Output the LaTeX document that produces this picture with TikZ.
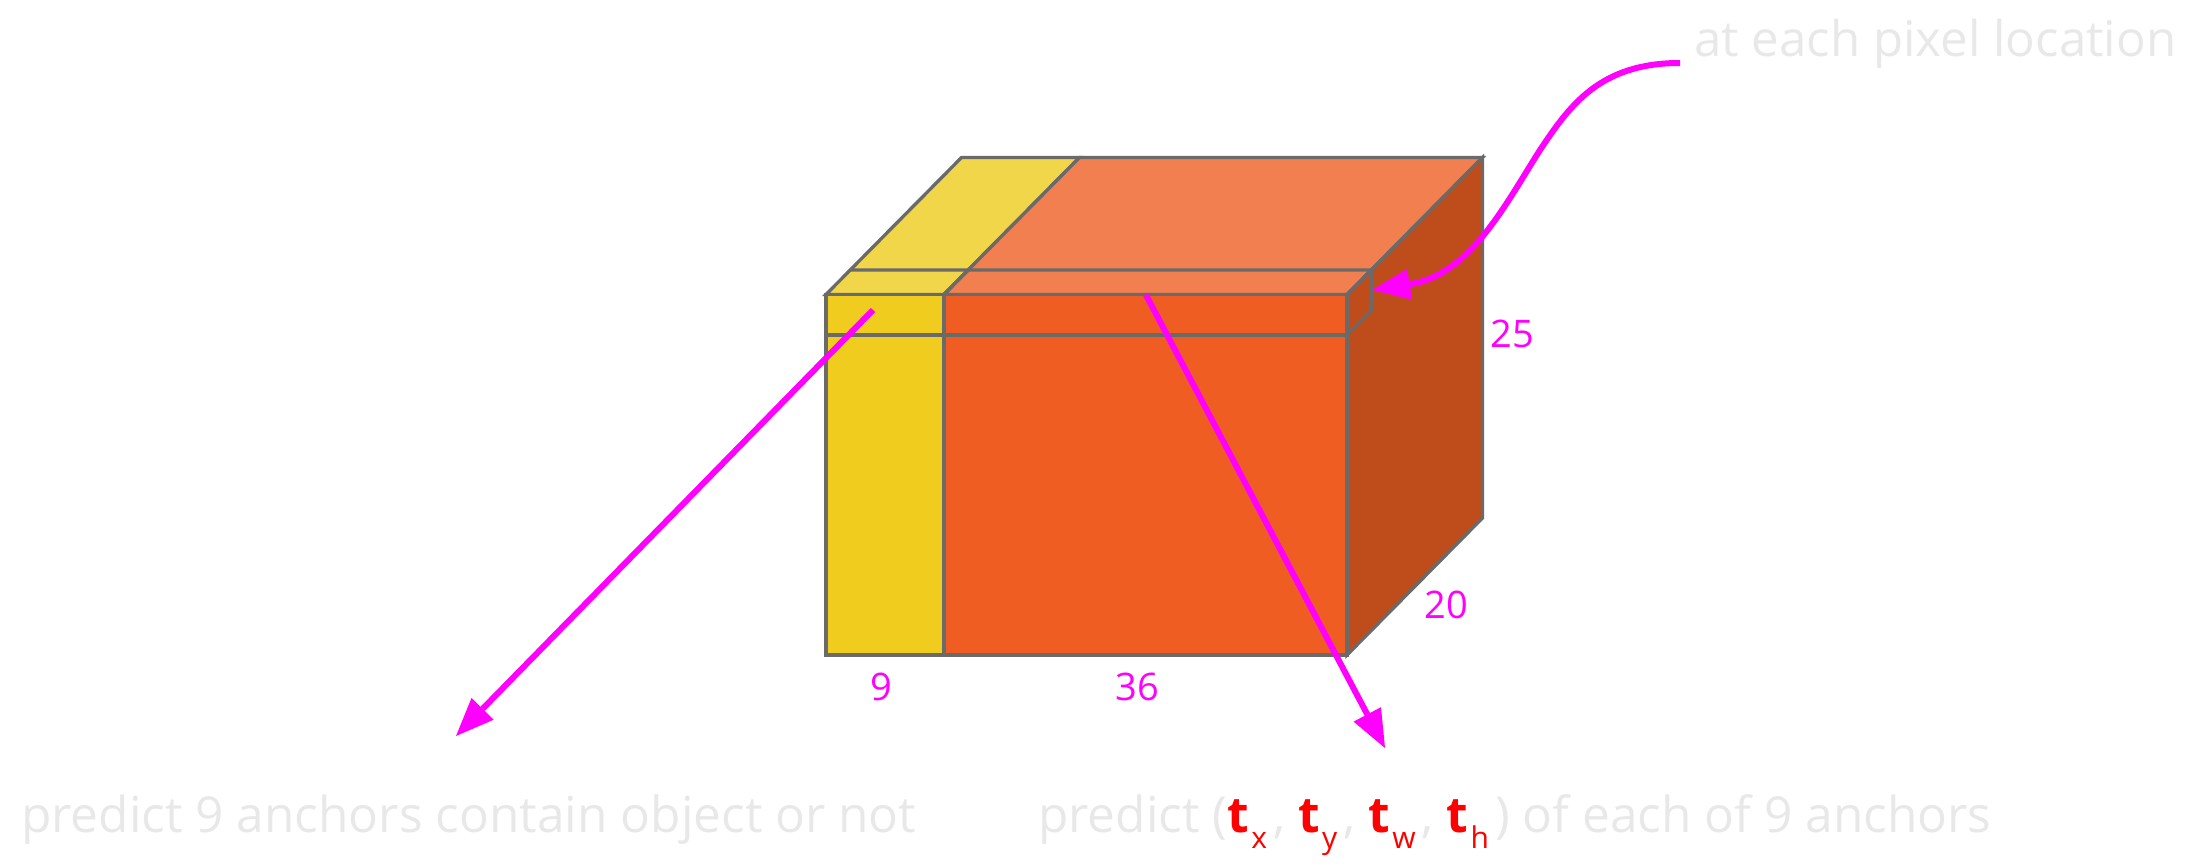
\documentclass[tikz,border=0pt]{standalone}
\usepackage{graphicx}
\usepackage{fontspec}
\setmainfont{Open Sans}
\usetikzlibrary{arrows.meta}
\definecolor{yfront}{HTML}{F0CC1E}
\definecolor{ytop}{HTML}{F1D64A}
\definecolor{ofront}{HTML}{EF5D22}
\definecolor{otop}{HTML}{F27F4F}
\definecolor{oside}{HTML}{BF4D1C}
\definecolor{edgegray}{HTML}{6A6A6A}
\definecolor{mag}{HTML}{FF00FF}
\definecolor{notegray}{HTML}{E8E8E8}
\definecolor{tred}{HTML}{FF0000}
\newcommand{\mytsub}[1]{{\color{tred}\bfseries t}\hspace{2.5pt}\raisebox{-16pt}{\color{tred}\fontsize{30}{30}\selectfont #1}\hspace{6pt}}
\begin{document}
\begin{tikzpicture}[x=1pt,y=-1pt,
  edge/.style={draw=edgegray, line width=3.3pt},
  marrow/.style={draw=mag, line width=6pt, -{Triangle[length=38pt,width=31pt,line width=0pt]}},
  dimlabel/.style={text=mag, font=\fontsize{38}{38}\selectfont, inner sep=0pt},
  note/.style={text=notegray, font=\fontsize{49.6}{50}\selectfont, inner sep=0pt, anchor=base west}]
\useasboundingbox (0,0) rectangle (2205,866);
% cube corners
\coordinate (ftl) at (826,294.5);
\coordinate (fdt) at (944,294.5);
\coordinate (ftr) at (1347,294.5);
\coordinate (fbl) at (826,655);
\coordinate (fdb) at (944,655);
\coordinate (fbr) at (1347,655);
\coordinate (btl) at (961.5,157.5);
\coordinate (bdt) at (1079.5,157.5);
\coordinate (btr) at (1482.5,157.5);
\coordinate (bbr) at (1482.5,518);
\coordinate (stl) at (850.2,270);
\coordinate (sdt) at (968.2,270);
\coordinate (str) at (1371.2,270);
\coordinate (sbr) at (1371.2,310.5);
\coordinate (fml) at (826,335);
\coordinate (fmr) at (1347,335);
% faces
\filldraw[edge, fill=ytop] (ftl) -- (btl) -- (bdt) -- (fdt) -- cycle;
\filldraw[edge, fill=otop] (fdt) -- (bdt) -- (btr) -- (ftr) -- cycle;
\filldraw[edge, fill=oside] (ftr) -- (btr) -- (bbr) -- (fbr) -- cycle;
\filldraw[edge, fill=yfront] (ftl) -- (fdt) -- (fdb) -- (fbl) -- cycle;
\filldraw[edge, fill=ofront] (fdt) -- (ftr) -- (fbr) -- (fdb) -- cycle;
% slice lines
\draw[edge] (stl) -- (str) -- (sbr) -- (fmr);
\draw[edge] (fdt) -- (sdt);
\draw[edge] (fml) -- (fmr);
% dimension labels
\node[dimlabel] (l9) at (881,687) {9};
\node[dimlabel] (l36) at (1137.5,687) {36};
\node[dimlabel] (l25) at (1512,334) {25};
\node[dimlabel] (l20) at (1446,604.5) {20};
% notes
\node[note] (tl) at (21,832) {predict 9 anchors contain object or not};
\node[note] (tr) at (1038,832) {predict (\mytsub{x}, \mytsub{y}, \mytsub{w}, \mytsub{h}) of each of 9 anchors};
\node[note] (tp) at (1694,57) {\resizebox{482pt}{!}{at each pixel location}};
% arrows
\coordinate (a1s) at (873,310);
\coordinate (a1e) at (456,736);
\coordinate (a2s) at (1146,295);
\coordinate (a2e) at (1385,748);
\coordinate (a3s) at (1680,63);
\coordinate (a3e) at (1372,290);
\draw[marrow] (a1s) -- (a1e);
\draw[marrow] (a2s) -- (a2e);
\draw[marrow] (a3s) .. controls (1600,63) and (1570,105) .. (1540,150) .. controls (1505,205) and (1470,275) .. (a3e);
\end{tikzpicture}
\end{document}
